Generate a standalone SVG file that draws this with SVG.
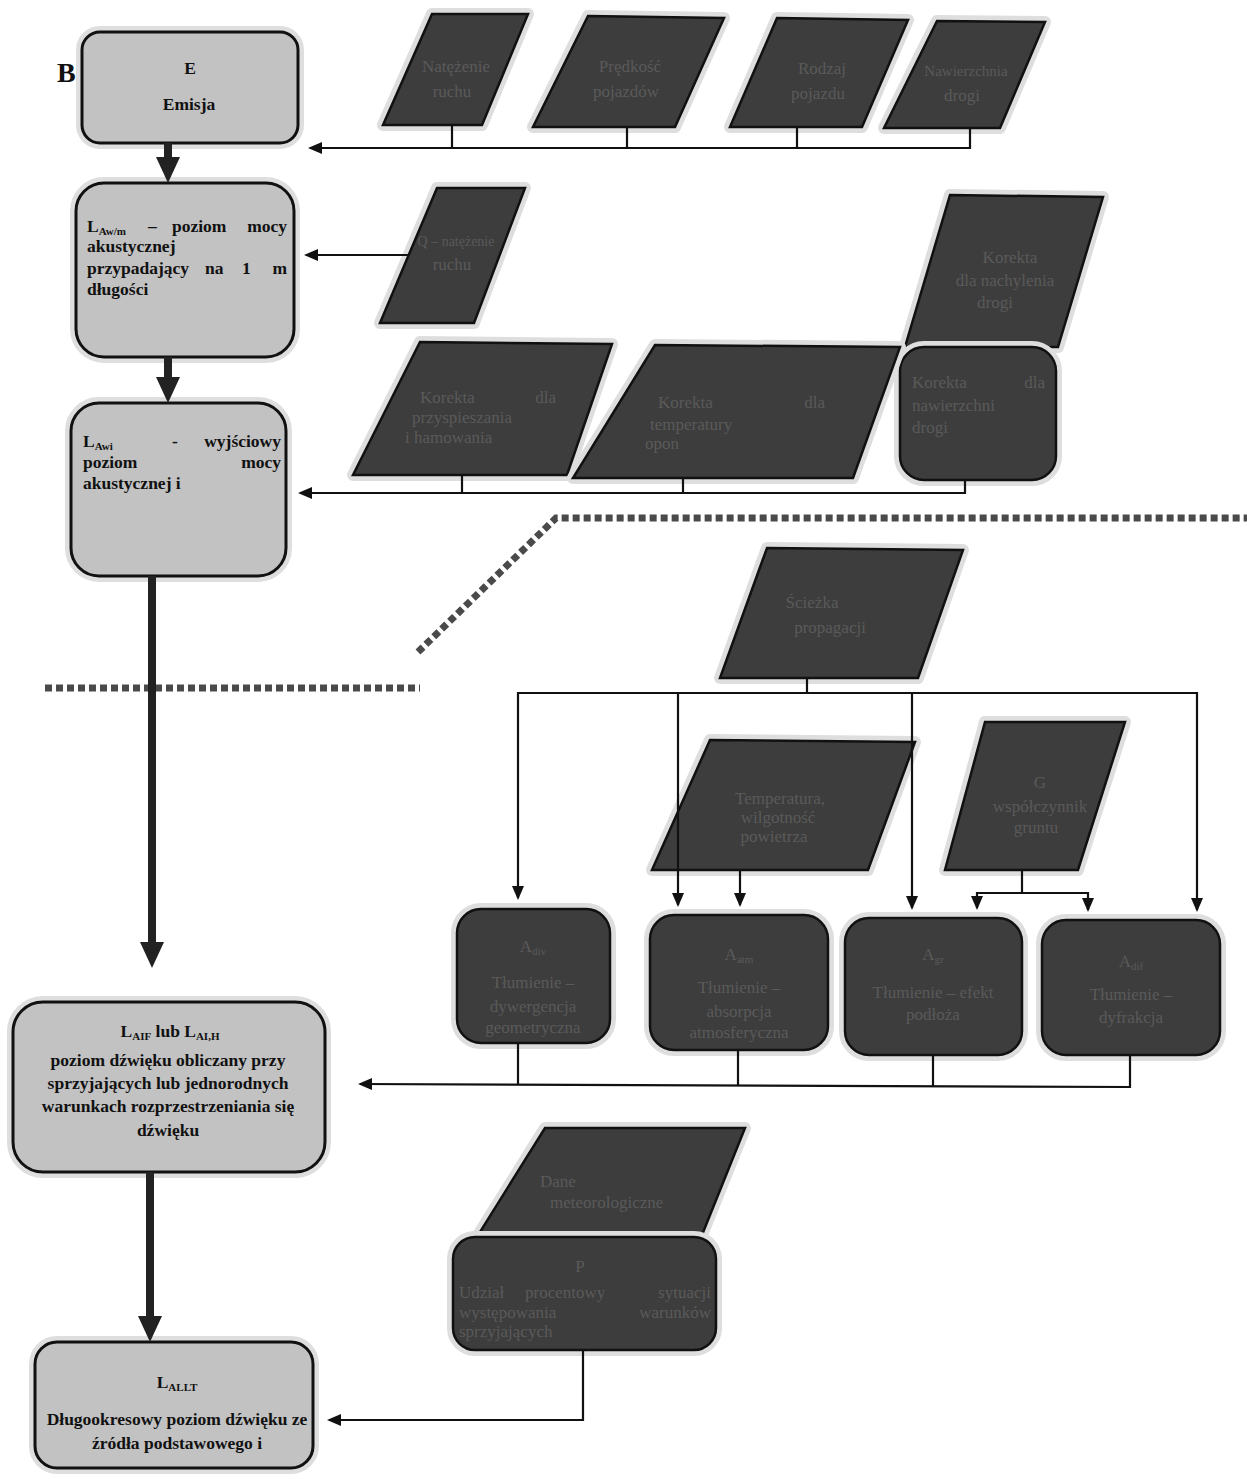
<svg xmlns="http://www.w3.org/2000/svg" width="1247" height="1479" viewBox="0 0 1247 1479">
<style>
.halo{fill:#dedede;stroke:#dedede;stroke-width:12;stroke-linejoin:round}
.lb{fill:#c2c2c2;stroke:#111;stroke-width:3}
.db{fill:#3d3d3d;stroke:#111;stroke-width:2.5;stroke-linejoin:miter}
.t{font-family:"Liberation Serif",serif;font-weight:bold;font-size:17.5px;fill:#111}
.tc{text-anchor:middle}
.te{text-anchor:end}
.dt{font-family:"Liberation Serif",serif;font-size:17px;fill:#5a5a5a}
.sub{font-size:11px}
.c{stroke:#111;stroke-width:2.2;fill:none}
.thick{stroke:#222;stroke-width:8;fill:none}
.dots{stroke:#4a4a4a;stroke-width:7;stroke-dasharray:7 4;fill:none}
</style>
<defs>
<marker id="ah" viewBox="0 0 14 12" refX="12" refY="6" markerWidth="14" markerHeight="12" markerUnits="userSpaceOnUse" orient="auto"><path d="M0,0 L14,6 L0,12 z" fill="#111"/></marker>
<marker id="aht" viewBox="0 0 26 24" refX="14" refY="12" markerWidth="26" markerHeight="24" markerUnits="userSpaceOnUse" orient="auto"><path d="M0,0 L26,12 L0,24 z" fill="#222"/></marker>
</defs>
<rect width="1247" height="1479" fill="#fff"/>

<!-- separators -->
<g id="separators">
<polyline class="dots" points="418,652 556,518 1247,518"/>
<line class="dots" x1="45" y1="688" x2="420" y2="688" stroke="#6a6a6a"/>
</g>

<!-- left column -->
<g id="label-B"><text class="t" x="57" y="82" style="font-size:28px">B</text></g>
<g id="n-emisja">
<rect class="halo" x="82" y="32" width="216" height="111" rx="18"/>
<rect class="lb" x="82" y="32" width="216" height="111" rx="18"/>
<text class="t tc" x="190" y="74">E</text>
<text class="t tc" x="189" y="110">Emisja</text>
</g>
<g id="n-lawm">
<rect class="halo" x="76" y="183" width="218" height="174" rx="28"/>
<rect class="lb" x="76" y="183" width="218" height="174" rx="28"/>
<text class="t" x="87" y="232">L<tspan class="sub" dy="3">Aw/m</tspan></text>
<text class="t" x="148" y="232">–</text>
<text class="t" x="172" y="232">poziom</text>
<text class="t te" x="287" y="232">mocy</text>
<text class="t" x="87" y="252">akustycznej</text>
<text class="t" x="87" y="274">przypadający</text>
<text class="t" x="205" y="274">na</text>
<text class="t" x="242" y="274">1</text>
<text class="t te" x="287" y="274">m</text>
<text class="t" x="87" y="295">długości</text>
</g>
<g id="n-lawi">
<rect class="halo" x="71" y="403" width="215" height="173" rx="28"/>
<rect class="lb" x="71" y="403" width="215" height="173" rx="28"/>
<text class="t" x="83" y="447">L<tspan class="sub" dy="3">Awi</tspan></text>
<text class="t" x="172" y="447">-</text>
<text class="t te" x="281" y="447">wyjściowy</text>
<text class="t" x="83" y="468">poziom</text>
<text class="t te" x="281" y="468">mocy</text>
<text class="t" x="83" y="489">akustycznej i</text>
</g>
<g id="n-laif">
<rect class="halo" x="13" y="1002" width="312" height="170" rx="30"/>
<rect class="lb" x="13" y="1002" width="312" height="170" rx="30"/>
<text class="t tc" x="170" y="1037">L<tspan class="sub" dy="3">AIF</tspan><tspan dy="-3"> lub L</tspan><tspan class="sub" dy="3">AI,H</tspan></text>
<text class="t tc" x="168" y="1066">poziom dźwięku obliczany przy</text>
<text class="t tc" x="168" y="1089">sprzyjających lub jednorodnych</text>
<text class="t tc" x="168" y="1112">warunkach rozprzestrzeniania się</text>
<text class="t tc" x="168" y="1136">dźwięku</text>
</g>
<g id="n-lallt">
<rect class="halo" x="35" y="1342" width="278" height="126" rx="22"/>
<rect class="lb" x="35" y="1342" width="278" height="126" rx="22"/>
<text class="t tc" x="177" y="1388">L<tspan class="sub" dy="3">ALLT</tspan></text>
<text class="t tc" x="177" y="1425">Długookresowy poziom dźwięku ze</text>
<text class="t tc" x="177" y="1449">źródła podstawowego i</text>
</g>

<!-- top row parallelograms -->
<g id="p1">
<polygon class="halo" points="432,14 528,14 482,125 383,125"/>
<polygon class="db" points="432,14 528,14 482,125 383,125"/>
<text class="dt tc" x="456" y="72">Natężenie</text>
<text class="dt tc" x="452" y="97">ruchu</text>
</g>
<g id="p2">
<polygon class="halo" points="588,16 724,18 675,127 533,127"/>
<polygon class="db" points="588,16 724,18 675,127 533,127"/>
<text class="dt tc" x="630" y="72">Prędkość</text>
<text class="dt tc" x="626" y="97">pojazdów</text>
</g>
<g id="p3">
<polygon class="halo" points="777,18 908,20 862,127 730,127"/>
<polygon class="db" points="777,18 908,20 862,127 730,127"/>
<text class="dt tc" x="822" y="74">Rodzaj</text>
<text class="dt tc" x="818" y="99">pojazdu</text>
</g>
<g id="p4">
<polygon class="halo" points="937,21 1045,22 1000,128 884,128"/>
<polygon class="db" points="937,21 1045,22 1000,128 884,128"/>
<text class="dt tc" x="966" y="76" style="font-size:15px">Nawierzchnia</text>
<text class="dt tc" x="962" y="101">drogi</text>
</g>

<!-- second row -->
<g id="p5">
<polygon class="halo" points="437,188 525,188 474,323 380,323"/>
<polygon class="db" points="437,188 525,188 474,323 380,323"/>
<text class="dt tc" x="456" y="246" style="font-size:14px">Q – natężenie</text>
<text class="dt tc" x="452" y="270">ruchu</text>
</g>
<g id="p6">
<polygon class="halo" points="950,195 1103,197 1058,347 905,347"/>
<polygon class="db" points="950,195 1103,197 1058,347 905,347"/>
<text class="dt tc" x="1010" y="263">Korekta</text>
<text class="dt tc" x="1005" y="286">dla nachylenia</text>
<text class="dt tc" x="995" y="308">drogi</text>
</g>
<g id="r7">
<rect class="halo" x="900" y="347" width="156" height="133" rx="24"/>
<rect class="db" x="900" y="347" width="156" height="133" rx="24"/>
<text class="dt" x="912" y="388">Korekta</text>
<text class="dt te" x="1045" y="388">dla</text>
<text class="dt" x="912" y="411">nawierzchni</text>
<text class="dt" x="912" y="433">drogi</text>
</g>

<!-- third row -->
<g id="p8">
<polygon class="halo" points="420,342 612,344 567,475 353,475"/>
<polygon class="db" points="420,342 612,344 567,475 353,475"/>
<text class="dt" x="420" y="403">Korekta</text>
<text class="dt te" x="556" y="403">dla</text>
<text class="dt" x="412" y="423">przyspieszania</text>
<text class="dt" x="405" y="443">i hamowania</text>
</g>
<g id="p9">
<polygon class="halo" points="655,345 900,347 853,478 573,478"/>
<polygon class="db" points="655,345 900,347 853,478 573,478"/>
<text class="dt" x="658" y="408">Korekta</text>
<text class="dt te" x="825" y="408">dla</text>
<text class="dt" x="650" y="430">temperatury</text>
<text class="dt" x="645" y="449">opon</text>
</g>

<!-- propagation -->
<g id="p10">
<polygon class="halo" points="767,548 963,550 918,678 720,678"/>
<polygon class="db" points="767,548 963,550 918,678 720,678"/>
<text class="dt tc" x="812" y="608">Ścieżka</text>
<text class="dt tc" x="830" y="633">propagacji</text>
</g>
<g id="p11">
<polygon class="halo" points="710,740 915,742 868,870 652,870"/>
<polygon class="db" points="710,740 915,742 868,870 652,870"/>
<text class="dt tc" x="780" y="804">Temperatura,</text>
<text class="dt tc" x="778" y="823">wilgotność</text>
<text class="dt tc" x="774" y="842">powietrza</text>
</g>
<g id="p12">
<polygon class="halo" points="985,722 1125,722 1078,870 945,870"/>
<polygon class="db" points="985,722 1125,722 1078,870 945,870"/>
<text class="dt tc" x="1040" y="788">G</text>
<text class="dt tc" x="1040" y="812">współczynnik</text>
<text class="dt tc" x="1036" y="833">gruntu</text>
</g>

<!-- attenuation boxes -->
<g id="b-adiv">
<rect class="halo" x="457" y="909" width="153" height="134" rx="24"/>
<rect class="db" x="457" y="909" width="153" height="134" rx="24"/>
<text class="dt tc" x="533" y="952">A<tspan class="sub" dy="3">div</tspan></text>
<text class="dt tc" x="533" y="988">Tłumienie –</text>
<text class="dt tc" x="533" y="1012">dywergencja</text>
<text class="dt tc" x="533" y="1033">geometryczna</text>
</g>
<g id="b-aatm">
<rect class="halo" x="650" y="915" width="178" height="135" rx="24"/>
<rect class="db" x="650" y="915" width="178" height="135" rx="24"/>
<text class="dt tc" x="739" y="960">A<tspan class="sub" dy="3">atm</tspan></text>
<text class="dt tc" x="739" y="993">Tłumienie –</text>
<text class="dt tc" x="739" y="1017">absorpcja</text>
<text class="dt tc" x="739" y="1038">atmosferyczna</text>
</g>
<g id="b-agr">
<rect class="halo" x="845" y="918" width="177" height="137" rx="24"/>
<rect class="db" x="845" y="918" width="177" height="137" rx="24"/>
<text class="dt tc" x="933" y="960">A<tspan class="sub" dy="3">gr</tspan></text>
<text class="dt tc" x="933" y="998">Tłumienie – efekt</text>
<text class="dt tc" x="933" y="1020">podłoża</text>
</g>
<g id="b-adif">
<rect class="halo" x="1042" y="920" width="178" height="135" rx="24"/>
<rect class="db" x="1042" y="920" width="178" height="135" rx="24"/>
<text class="dt tc" x="1131" y="967">A<tspan class="sub" dy="3">dif</tspan></text>
<text class="dt tc" x="1131" y="1000">Tłumienie –</text>
<text class="dt tc" x="1131" y="1023">dyfrakcja</text>
</g>

<!-- meteo -->
<g id="p13">
<polygon class="halo" points="545,1128 745,1128 700,1240 475,1240"/>
<polygon class="db" points="545,1128 745,1128 700,1240 475,1240"/>
<text class="dt" x="540" y="1187">Dane</text>
<text class="dt" x="550" y="1208">meteorologiczne</text>
</g>
<g id="r14">
<rect class="halo" x="453" y="1237" width="263" height="113" rx="22"/>
<rect class="db" x="453" y="1237" width="263" height="113" rx="22"/>
<text class="dt tc" x="580" y="1272">P</text>
<text class="dt" x="459" y="1298">Udział</text>
<text class="dt" x="525" y="1298">procentowy</text>
<text class="dt te" x="711" y="1298">sytuacji</text>
<text class="dt" x="459" y="1318">występowania</text>
<text class="dt te" x="711" y="1318">warunków</text>
<text class="dt" x="459" y="1337">sprzyjających</text>
</g>

<!-- connectors -->
<g id="connectors">
<line class="thick" x1="168" y1="143" x2="168" y2="171" marker-end="url(#aht)"/>
<line class="thick" x1="168" y1="357" x2="168" y2="391" marker-end="url(#aht)"/>
<line class="thick" x1="152" y1="576" x2="152" y2="956" marker-end="url(#aht)"/>
<line class="thick" x1="150" y1="1172" x2="150" y2="1330" marker-end="url(#aht)"/>

<polyline class="c" points="452,125 452,148"/>
<polyline class="c" points="627,127 627,148"/>
<polyline class="c" points="797,127 797,148"/>
<polyline class="c" points="970,128 970,148 452,148 310,148" marker-end="url(#ah)"/>
<line class="c" x1="408" y1="255" x2="306" y2="255" marker-end="url(#ah)"/>

<polyline class="c" points="462,475 462,493"/>
<polyline class="c" points="683,478 683,493"/>
<polyline class="c" points="965,480 965,493 300,493" marker-end="url(#ah)"/>

<polyline class="c" points="807,678 807,693"/>
<polyline class="c" points="678,693 518,693 518,898" marker-end="url(#ah)"/>
<polyline class="c" points="678,693 678,905" marker-end="url(#ah)"/>
<polyline class="c" points="678,693 1197,693 1197,910" marker-end="url(#ah)"/>
<polyline class="c" points="912,693 912,908" marker-end="url(#ah)"/>
<polyline class="c" points="740,870 740,905" marker-end="url(#ah)"/>
<polyline class="c" points="1022,870 1022,893"/>
<polyline class="c" points="1022,893 977,893 977,908" marker-end="url(#ah)"/>
<polyline class="c" points="1022,893 1088,893 1088,910" marker-end="url(#ah)"/>

<polyline class="c" points="518,1043 518,1085"/>
<polyline class="c" points="738,1050 738,1085"/>
<polyline class="c" points="933,1055 933,1086"/>
<polyline class="c" points="1130,1055 1130,1087 360,1084" marker-end="url(#ah)"/>

<polyline class="c" points="583,1350 583,1420 329,1420" marker-end="url(#ah)"/>
</g>
</svg>
